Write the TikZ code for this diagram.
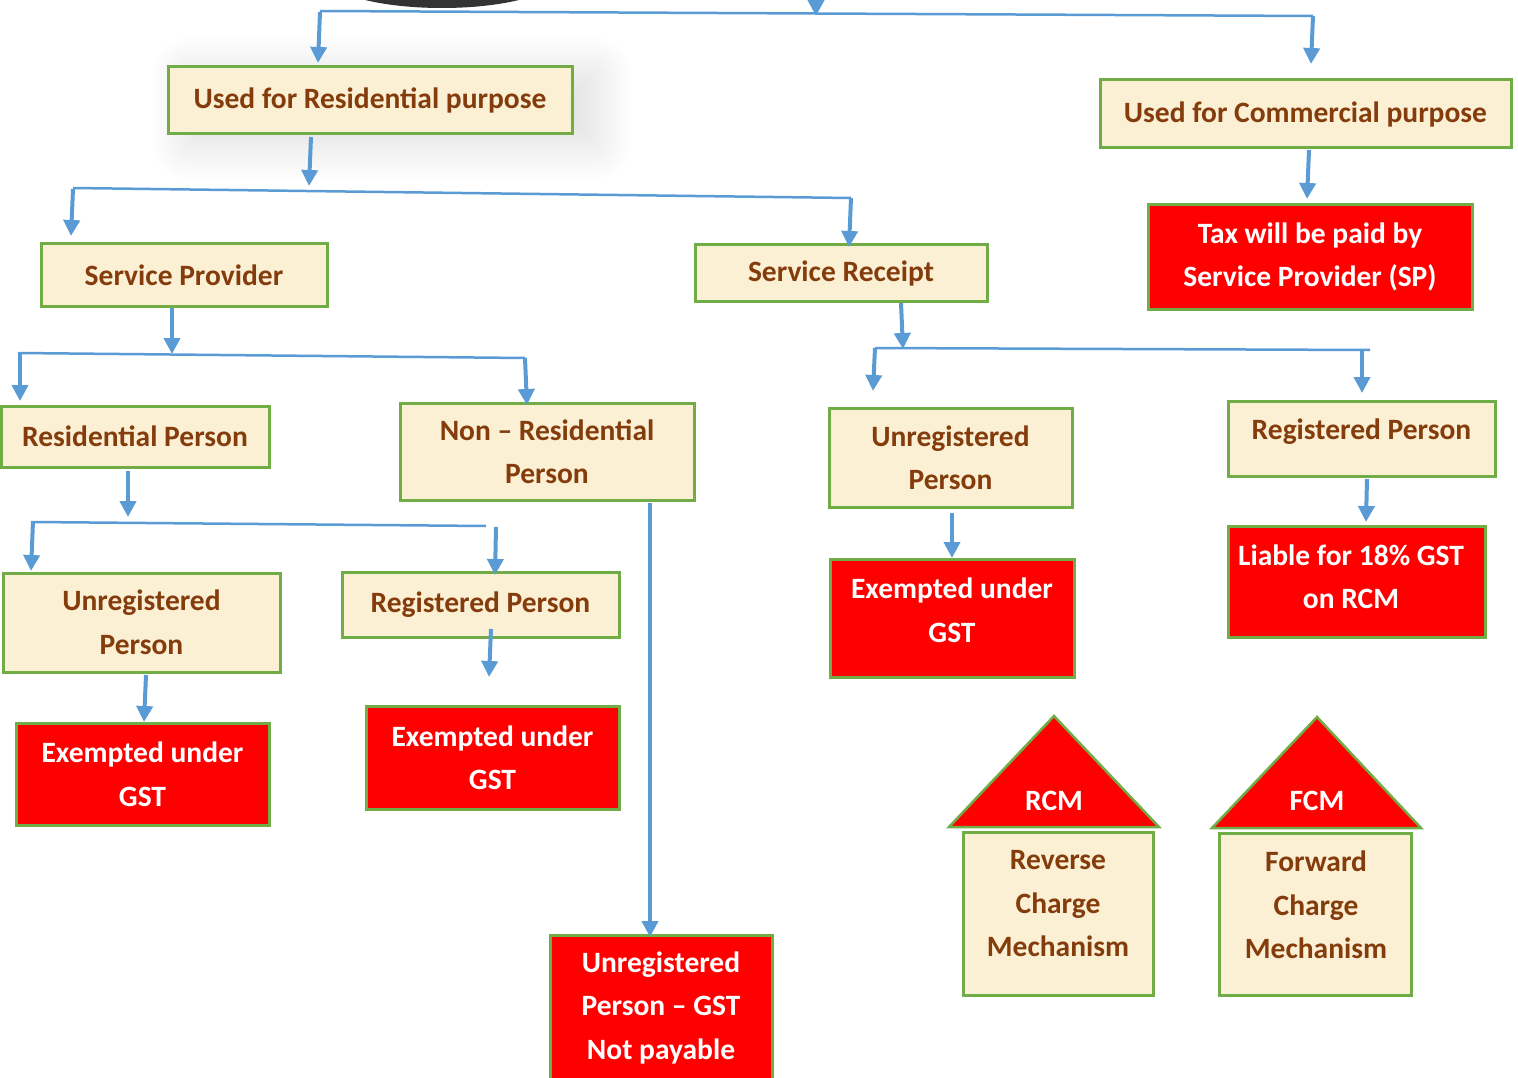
\documentclass[tikz,border=0pt]{standalone}
\usepackage{fontspec}
\setmainfont{Carlito}
\usetikzlibrary{arrows.meta,shadows.blur}
\definecolor{brn}{HTML}{843C0C}
\definecolor{cream}{HTML}{FBF0D4}
\definecolor{grn}{HTML}{70AD47}
\definecolor{blu}{HTML}{5B9BD5}
\definecolor{redbox}{HTML}{FF0000}
\definecolor{darkblob}{HTML}{333333}
\tikzset{
  txtfont/.style={font=\fontsize{29.5}{43.5}\selectfont\bfseries},
  cbox/.style={draw=grn, line width=3pt, fill=cream, text=brn, txtfont, align=center, inner sep=0pt},
  rbox/.style={draw=grn, line width=3pt, fill=redbox, text=white, txtfont, align=center, inner sep=0pt},
  btxt/.style={text=brn, txtfont, align=center, inner sep=0pt},
  wtxt/.style={text=white, txtfont, align=center, inner sep=0pt},
  arr/.style={draw=blu, line width=4pt, -{Triangle[width=16pt,length=16pt]}},
  bus/.style={draw=blu, line width=2.5pt},
  tri/.style={draw=grn, line width=2.5pt, fill=redbox, line join=miter},
}
\begin{document}
\begin{tikzpicture}[x=1pt,y=-1pt]
\useasboundingbox (0,0) rectangle (1518,1078);
% dark shape cut off at the top
\fill[darkblob] (442,-22) ellipse [x radius=113, y radius=30];

% boxes
\node[cbox, minimum width=404pt, minimum height=67pt,
  blur shadow={shadow xshift=22pt, shadow yshift=-8pt, shadow blur radius=40pt, shadow blur steps=25, shadow opacity=14}]
  (resid) at (370,100.5) {Used for Residential purpose};
\node[cbox, minimum width=411pt, minimum height=68pt] (comm) at (1305.5,114) {Used for Commercial purpose};
\node[rbox, minimum width=324pt, minimum height=104pt] (tax) at (1310,257) {Tax will be paid by\\Service Provider (SP)};
\node[cbox, minimum width=286pt, minimum height=62pt] (sp) at (184,275) {Service Provider};
\node[cbox, minimum width=292pt, minimum height=56pt] (sr) at (841,273) {Service Receipt};
\node[cbox, minimum width=268pt, minimum height=61pt] (rp) at (135,436.5) {Residential Person};
\node[cbox, minimum width=294pt, minimum height=97pt] (nrp) at (547,451.5) {Non -- Residential\\Person};
\node[cbox, minimum width=277pt, minimum height=99pt] (urp1) at (141.5,622.5) {Unregistered\\Person};
\node[cbox, minimum width=277pt, minimum height=65pt] (regp1) at (480.5,604.5) {Registered Person};
\node[rbox, minimum width=253pt, minimum height=102pt] (ex1) at (142.5,774) {Exempted under\\GST};
\node[rbox, minimum width=253pt, minimum height=103pt] (ex2) at (492.5,757.5) {Exempted under\\GST};
\node[rbox, minimum width=222pt, minimum height=145pt] (unp) at (661,1007.5) {Unregistered\\Person -- GST\\Not payable};
\node[cbox, minimum width=243pt, minimum height=99pt] (urp2) at (950.5,458) {Unregistered\\Person};
\node[cbox, minimum width=267pt, minimum height=75pt] (regp2) at (1361.5,438.5) {};
\node[btxt] (regp2t) at (1361.5,432) {Registered Person};
\node[rbox, minimum width=244pt, minimum height=118pt] (ex3) at (952,618) {};
\node[wtxt] (ex3t) at (952,610) {Exempted under\\GST};
\node[rbox, minimum width=257pt, minimum height=111pt] (liab) at (1356.5,581.5) {};
\node[wtxt] (liabt) at (1351,577) {Liable for 18\% GST\\on RCM};

% RCM / FCM houses
\path (1054,716) coordinate (rcmT) (949,827) coordinate (rcmL) (1159,827) coordinate (rcmR);
\draw[tri] (rcmT) -- (rcmL) -- (rcmR) -- cycle;
\node[wtxt] (rcml) at (1054,801) {RCM};
\node[cbox, minimum width=190pt, minimum height=163pt] (rcmbox) at (1058,913.5) {};
\node[btxt] (rcmbt) at (1058,904) {Reverse\\Charge\\Mechanism};
\path (1317,717) coordinate (fcmT) (1212,828) coordinate (fcmL) (1421,828) coordinate (fcmR);
\draw[tri] (fcmT) -- (fcmL) -- (fcmR) -- cycle;
\node[wtxt] (fcml) at (1317,801) {FCM};
\node[cbox, minimum width=192pt, minimum height=162pt] (fcmbox) at (1315,914) {};
\node[btxt] (fcmbt) at (1316,905) {Forward\\Charge\\Mechanism};

% bus lines
\path (320,11) coordinate (b0l) (1313,16) coordinate (b0r);
\draw[bus] (b0l) -- (b0r);
\path (73,188) coordinate (b1l) (851,198) coordinate (b1r);
\draw[bus] (b1l) -- (b1r);
\path (18,353) coordinate (b2l) (525,358) coordinate (b2r);
\draw[bus] (b2l) -- (b2r);
\path (33,522) coordinate (b3l) (486,526) coordinate (b3r);
\draw[bus] (b3l) -- (b3r);
\path (875,348) coordinate (b4l) (1370,350) coordinate (b4r);
\draw[bus] (b4l) -- (b4r);

% arrows
\path (816,-2) coordinate (a0s) (816,16) coordinate (a0e);
\draw[arr] (a0s) -- (a0e);
\path (320,12) coordinate (a1s) (318,63) coordinate (a1e);
\draw[arr] (a1s) -- (a1e);
\path (1313,16) coordinate (a2s) (1311,64) coordinate (a2e);
\draw[arr] (a2s) -- (a2e);
\path (1309,150) coordinate (a3s) (1307,199) coordinate (a3e);
\draw[arr] (a3s) -- (a3e);
\path (311,137) coordinate (a4s) (309,186) coordinate (a4e);
\draw[arr] (a4s) -- (a4e);
\path (73,189) coordinate (a5s) (71,236) coordinate (a5e);
\draw[arr] (a5s) -- (a5e);
\path (851,198) coordinate (a6s) (849,247) coordinate (a6e);
\draw[arr] (a6s) -- (a6e);
\path (172,308) coordinate (a7s) (172,354) coordinate (a7e);
\draw[arr] (a7s) -- (a7e);
\path (20,354) coordinate (a8s) (20,401) coordinate (a8e);
\draw[arr] (a8s) -- (a8e);
\path (525,358) coordinate (a9s) (527,405) coordinate (a9e);
\draw[arr] (a9s) -- (a9e);
\path (128,471) coordinate (a10s) (128,517) coordinate (a10e);
\draw[arr] (a10s) -- (a10e);
\path (33,521) coordinate (a11s) (31,571) coordinate (a11e);
\draw[arr] (a11s) -- (a11e);
\path (496,527) coordinate (a12s) (495,575) coordinate (a12e);
\draw[arr] (a12s) -- (a12e);
\path (146,675) coordinate (a13s) (144,722) coordinate (a13e);
\draw[arr] (a13s) -- (a13e);
\path (491,629) coordinate (a14s) (489,677) coordinate (a14e);
\draw[arr] (a14s) -- (a14e);
\path (650,503) coordinate (a15s) (650,937) coordinate (a15e);
\draw[arr] (a15s) -- (a15e);
\path (901,303) coordinate (a16s) (903,349) coordinate (a16e);
\draw[arr] (a16s) -- (a16e);
\path (875,348) coordinate (a17s) (873,391) coordinate (a17e);
\draw[arr] (a17s) -- (a17e);
\path (1362,350) coordinate (a18s) (1362,393) coordinate (a18e);
\draw[arr] (a18s) -- (a18e);
\path (952,513) coordinate (a19s) (952,558) coordinate (a19e);
\draw[arr] (a19s) -- (a19e);
\path (1367,479) coordinate (a20s) (1366,522) coordinate (a20e);
\draw[arr] (a20s) -- (a20e);
\end{tikzpicture}
\end{document}
